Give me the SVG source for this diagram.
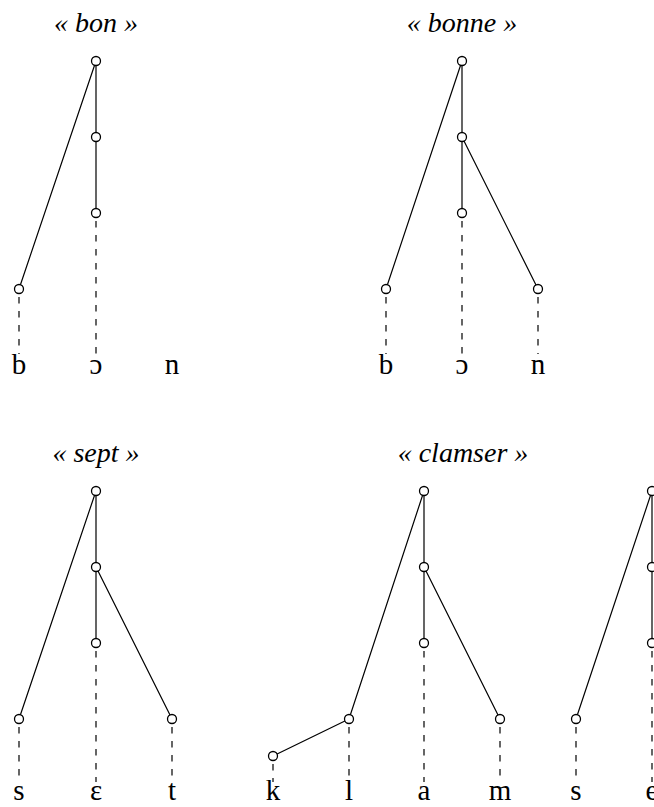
<svg xmlns="http://www.w3.org/2000/svg" width="654" height="807" viewBox="0 0 654 807">
<style>
.t{font-family:"Liberation Serif","Times New Roman",serif;font-style:italic;font-size:28px;fill:#000;text-anchor:middle}
.l{font-family:"Liberation Serif","Times New Roman",serif;font-size:29px;fill:#000;text-anchor:middle}
.e{stroke:#000;stroke-width:1.2;fill:none}
.d{stroke:#000;stroke-width:1.2;fill:none;stroke-dasharray:6.5,7.5}
.n{stroke:#000;stroke-width:1.3;fill:#fff}
</style>
<rect width="654" height="807" fill="#fff"/>
<g id="titles">
<text class="t" x="96" y="32">« bon »</text>
<text class="t" x="462" y="32">« bonne »</text>
<text class="t" x="96" y="462">« sept »</text>
<text class="t" x="463" y="462">« clamser »</text>
</g>
<g id="connectors">
<path class="e" d="M96,61 L19,289 M96,61 L96,213"/>
<path class="d" d="M19,297 L19,354 M96,221 L96,354"/>
<path class="e" d="M462,61 L386,289 M462,61 L462,213 M462,137 L538,289"/>
<path class="d" d="M386,297 L386,354 M462,221 L462,354 M538,297 L538,354"/>
<path class="e" d="M96,491 L19,719 M96,491 L96,643 M96,567 L172,719"/>
<path class="d" d="M19,727 L19,782 M96,651 L96,782 M172,727 L172,782"/>
<path class="e" d="M424,491 L349,719 M424,491 L424,643 M424,567 L500,719 M349,719 L273,756"/>
<path class="d" d="M273,764 L273,782 M349,727 L349,782 M424,651 L424,782 M500,727 L500,782"/>
<path class="e" d="M652,491 L576,719 M652,491 L652,643"/>
<path class="d" d="M576,727 L576,782 M652,651 L652,782"/>
</g>
<g id="bon">
<circle class="n" cx="96" cy="61" r="4.5"/>
<circle class="n" cx="96" cy="137" r="4.5"/>
<circle class="n" cx="96" cy="213" r="4.5"/>
<circle class="n" cx="19" cy="289" r="4.5"/>
<text class="l" x="19" y="374">b</text>
<text class="l" x="96" y="374">ɔ</text>
<text class="l" x="172" y="374">n</text>
</g>
<g id="bonne">
<circle class="n" cx="462" cy="61" r="4.5"/>
<circle class="n" cx="462" cy="137" r="4.5"/>
<circle class="n" cx="462" cy="213" r="4.5"/>
<circle class="n" cx="386" cy="289" r="4.5"/>
<circle class="n" cx="538" cy="289" r="4.5"/>
<text class="l" x="386" y="374">b</text>
<text class="l" x="462" y="374">ɔ</text>
<text class="l" x="538" y="374">n</text>
</g>
<g id="sept">
<circle class="n" cx="96" cy="491" r="4.5"/>
<circle class="n" cx="96" cy="567" r="4.5"/>
<circle class="n" cx="96" cy="643" r="4.5"/>
<circle class="n" cx="19" cy="719" r="4.5"/>
<circle class="n" cx="172" cy="719" r="4.5"/>
<text class="l" x="19" y="800">s</text>
<text class="l" x="96" y="800">ɛ</text>
<text class="l" x="172" y="800">t</text>
</g>
<g id="clamser">
<circle class="n" cx="424" cy="491" r="4.5"/>
<circle class="n" cx="424" cy="567" r="4.5"/>
<circle class="n" cx="424" cy="643" r="4.5"/>
<circle class="n" cx="349" cy="719" r="4.5"/>
<circle class="n" cx="273" cy="756" r="4.5"/>
<circle class="n" cx="500" cy="719" r="4.5"/>
<circle class="n" cx="652" cy="491" r="4.5"/>
<circle class="n" cx="652" cy="567" r="4.5"/>
<circle class="n" cx="652" cy="643" r="4.5"/>
<circle class="n" cx="576" cy="719" r="4.5"/>
<text class="l" x="273" y="800">k</text>
<text class="l" x="349" y="800">l</text>
<text class="l" x="424" y="800">a</text>
<text class="l" x="500" y="800">m</text>
<text class="l" x="576" y="800">s</text>
<text class="l" x="652" y="800">e</text>
</g>
</svg>
